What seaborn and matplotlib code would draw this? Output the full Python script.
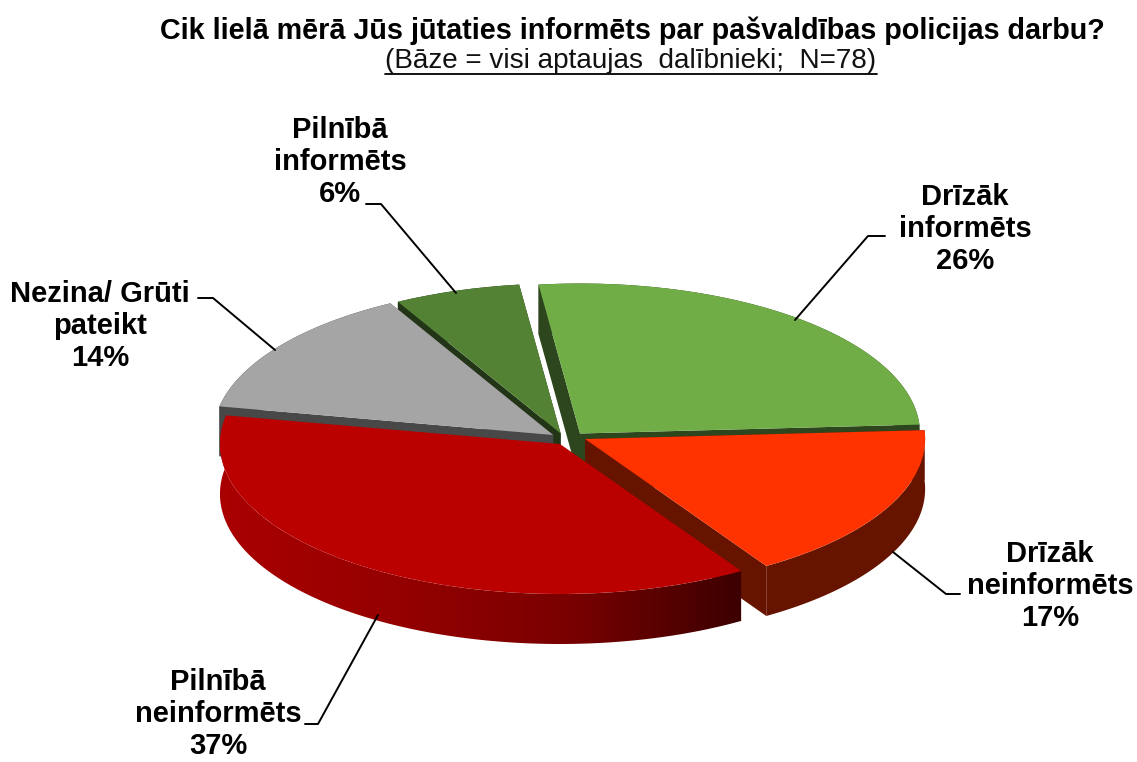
import numpy as np
import matplotlib.pyplot as plt
import seaborn as sns
from matplotlib.lines import Line2D
from matplotlib.patches import Polygon

sns.set_theme(style="white")
plt.rcParams['font.family'] = ['Liberation Sans', 'DejaVu Sans']

labels = ["Drīzāk\ninformēts", "Drīzāk\nneinformēts", "Pilnībā\nneinformēts", "Nezina/ Grūti\npateikt", "Pilnībā\ninformēts"]
values = [26, 17, 37, 14, 6]
top_colors = ["#70AD47", "#FF3300", "#BB0000", "#A5A5A5", "#548235"]
wall_colors = ["#2D461D", "#661400", "#9A0000", "#484848", "#223516"]
red_wall_shades = ["#AA0000", "#950000", "#7A0000", "#3C0000"]

# pixel layout of the ellipse
W, H = 1137, 762
cx, cy = 562, 441
rx, ry = 340, 150
depth = 50 / ry
nudge = [(0.053, 0.05), (0.068, 0.013), (-0.006, -0.02), (-0.026, 0.04), (-0.004, 0.05)]
order = [4, 3, 0, 1, 2]  # painted back to front

fig = plt.figure(figsize=(W / 100, H / 100), dpi=100)
ax = fig.add_axes([0, 0, 1, 1])

wedges, _ = ax.pie(values, startangle=97, counterclock=False, colors=top_colors,
                   wedgeprops={"linewidth": 0})
ax.set_aspect("auto")
ax.set_xlim(-cx / rx, (W - cx) / rx)
ax.set_ylim((cy - H) / ry, cy / ry)


def rim(w, n=120):
    t = np.radians(np.linspace(w.theta1, w.theta2, n))
    return w.center[0] + w.r * np.cos(t), w.center[1] + w.r * np.sin(t)


def rim_wall(w):
    x, y = rim(w)
    return np.r_[x, x[::-1]], np.r_[y, y[::-1] - depth]


for z, i in enumerate(order):
    w = wedges[i]
    w.set_center((nudge[i][0], nudge[i][1]))
    w.set_zorder(3 + 2 * z + 1)
    x, y = rim(w)
    c0, c1 = w.center
    if i == 2:
        # front slice has the shaded wall
        wx, wy = rim_wall(w)
        cmap = sns.blend_palette(red_wall_shades, as_cmap=True)
        im = ax.imshow(np.linspace(0, 1, 256).reshape(1, -1), cmap=cmap, aspect="auto",
                       extent=[x.min(), x.max(), (wy.min()), (wy.max())], zorder=3 + 2 * z)
        im.set_clip_path(Polygon(np.c_[wx, wy], transform=ax.transData))
    else:
        wx, wy = rim_wall(w)
        ax.fill(wx, wy, color=wall_colors[i], lw=0, zorder=3 + 2 * z)
        for k in (0, -1):
            ax.fill([c0, x[k], x[k], c0], [c1, y[k], y[k] - depth, c1 - depth],
                    color=wall_colors[i], lw=0, zorder=3 + 2 * z)

ax.set_xlim(-cx / rx, (W - cx) / rx)
ax.set_ylim((cy - H) / ry, cy / ry)
ax.axis("off")


def fx(x):
    return x / W


def fy(y):
    return 1 - y / H


fig.text(fx(632), fy(31), "Cik lielā mērā Jūs jūtaties informēts par pašvaldības policijas darbu?",
         ha="center", va="center", fontsize=20.7, fontweight="bold", color="black")
fig.text(fx(631), fy(61), "(Bāze = visi aptaujas  dalībnieki;  N=78)",
         ha="center", va="center", fontsize=20.1, color="#111111")
fig.add_artist(Line2D([fx(385), fx(877)], [fy(74), fy(74)], color="black", lw=1.3))

label_pos = [(965, 229), (1050, 586), (218, 714), (100, 326), (340, 162)]
for name, v, (lx, ly) in zip(labels, values, label_pos):
    fig.text(fx(lx), fy(ly), f"{name}\n{v}%", ha="center", va="center", fontsize=21,
             fontweight="bold", linespacing=1.2, color="black")

leaders = [
    [(885, 236), (868, 236), (795, 320)],
    [(960, 594), (946, 594), (893, 552)],
    [(305, 724), (318, 724), (378, 615)],
    [(198, 298), (213, 298), (275, 350)],
    [(366, 204), (381, 204), (456, 293)],
]
for pts in leaders:
    fig.add_artist(Line2D([fx(p[0]) for p in pts], [fy(p[1]) for p in pts], color="black", lw=1.4))

fig.savefig("out.png", dpi=100, facecolor="white")
